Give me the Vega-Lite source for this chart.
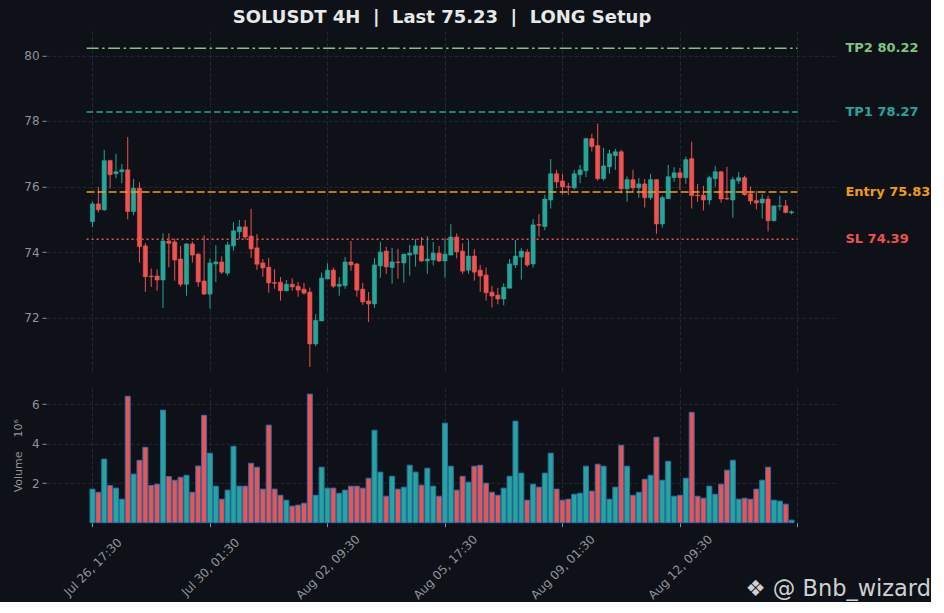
{
  "$schema": "https://vega.github.io/schema/vega-lite/v6.json",
  "background": "#0e1117",
  "padding": {"left": 12, "top": 8.8, "right": 0, "bottom": 0},
  "spacing": 16,
  "config": {
    "font": "DejaVu Sans",
    "view": {"stroke": null},
    "axis": {
      "domain": false,
      "labelFont": "DejaVu Sans",
      "labelFontSize": 12,
      "labelColor": "#8f949c",
      "tickColor": "#8f949c",
      "tickSize": 4,
      "labelPadding": 3,
      "gridColor": "#2a2e37",
      "gridDash": [4, 2],
      "gridWidth": 0.8,
      "titleFont": "DejaVu Sans",
      "titleColor": "#8f949c",
      "titleFontWeight": "normal"
    }
  },
  "datasets": {
    "candles": [
      {"i":0,"o":74.93,"h":75.54,"l":74.76,"c":75.47,"v":1.70},
      {"i":1,"o":75.47,"h":75.98,"l":75.21,"c":75.29,"v":1.54},
      {"i":2,"o":75.29,"h":77.12,"l":75.26,"c":76.79,"v":3.22},
      {"i":3,"o":76.79,"h":76.82,"l":75.94,"c":76.36,"v":1.88},
      {"i":4,"o":76.39,"h":77.00,"l":76.25,"c":76.45,"v":1.75},
      {"i":5,"o":76.45,"h":76.69,"l":76.10,"c":76.51,"v":1.19},
      {"i":6,"o":76.51,"h":77.51,"l":75.00,"c":75.24,"v":6.40},
      {"i":7,"o":75.24,"h":76.23,"l":75.12,"c":75.95,"v":2.46},
      {"i":8,"o":75.95,"h":76.13,"l":73.68,"c":74.17,"v":3.16},
      {"i":9,"o":74.19,"h":74.27,"l":72.79,"c":73.25,"v":3.82},
      {"i":10,"o":73.27,"h":73.50,"l":72.94,"c":73.25,"v":1.88},
      {"i":11,"o":73.27,"h":73.47,"l":72.82,"c":73.15,"v":1.95},
      {"i":12,"o":73.15,"h":74.57,"l":72.30,"c":74.34,"v":5.70},
      {"i":13,"o":74.34,"h":74.57,"l":73.54,"c":74.27,"v":2.34},
      {"i":14,"o":74.31,"h":74.41,"l":73.13,"c":73.76,"v":2.15},
      {"i":15,"o":73.79,"h":74.19,"l":72.94,"c":73.02,"v":2.30},
      {"i":16,"o":73.02,"h":74.27,"l":72.67,"c":74.25,"v":2.40},
      {"i":17,"o":74.25,"h":74.32,"l":73.68,"c":73.91,"v":1.54},
      {"i":18,"o":73.94,"h":73.96,"l":72.94,"c":73.09,"v":2.87},
      {"i":19,"o":73.12,"h":74.51,"l":72.69,"c":72.72,"v":5.44},
      {"i":20,"o":72.72,"h":73.81,"l":72.28,"c":73.67,"v":3.52},
      {"i":21,"o":73.64,"h":74.21,"l":73.09,"c":73.70,"v":1.85},
      {"i":22,"o":73.70,"h":73.87,"l":73.33,"c":73.39,"v":1.19},
      {"i":23,"o":73.36,"h":74.32,"l":73.28,"c":74.22,"v":1.65},
      {"i":24,"o":74.19,"h":74.91,"l":74.04,"c":74.65,"v":3.87},
      {"i":25,"o":74.62,"h":74.98,"l":74.39,"c":74.77,"v":1.85},
      {"i":26,"o":74.77,"h":74.98,"l":74.39,"c":74.46,"v":1.85},
      {"i":27,"o":74.49,"h":75.32,"l":73.82,"c":74.10,"v":3.01},
      {"i":28,"o":74.13,"h":74.55,"l":73.46,"c":73.63,"v":2.81},
      {"i":29,"o":73.67,"h":73.79,"l":73.25,"c":73.52,"v":1.70},
      {"i":30,"o":73.54,"h":73.82,"l":72.76,"c":73.06,"v":4.94},
      {"i":31,"o":73.07,"h":73.48,"l":72.88,"c":73.05,"v":1.70},
      {"i":32,"o":73.08,"h":73.24,"l":72.52,"c":72.82,"v":1.39},
      {"i":33,"o":72.82,"h":73.15,"l":72.81,"c":73.02,"v":1.14},
      {"i":34,"o":73.02,"h":73.20,"l":72.82,"c":72.94,"v":0.84},
      {"i":35,"o":72.96,"h":73.09,"l":72.64,"c":72.84,"v":0.89},
      {"i":36,"o":72.87,"h":73.06,"l":72.70,"c":72.75,"v":0.99},
      {"i":37,"o":72.78,"h":72.92,"l":70.50,"c":71.20,"v":6.51},
      {"i":38,"o":71.20,"h":72.11,"l":71.13,"c":71.92,"v":1.39},
      {"i":39,"o":71.90,"h":73.38,"l":71.90,"c":73.21,"v":2.81},
      {"i":40,"o":73.18,"h":73.66,"l":73.18,"c":73.45,"v":1.75},
      {"i":41,"o":73.45,"h":73.53,"l":72.91,"c":72.96,"v":1.75},
      {"i":42,"o":72.96,"h":73.24,"l":72.67,"c":73.02,"v":1.49},
      {"i":43,"o":72.98,"h":73.85,"l":72.88,"c":73.70,"v":1.65},
      {"i":44,"o":73.70,"h":74.34,"l":73.43,"c":73.61,"v":1.85},
      {"i":45,"o":73.64,"h":73.67,"l":72.64,"c":72.84,"v":1.85},
      {"i":46,"o":72.87,"h":73.06,"l":72.39,"c":72.48,"v":1.75},
      {"i":47,"o":72.51,"h":72.78,"l":71.87,"c":72.42,"v":2.25},
      {"i":48,"o":72.42,"h":73.82,"l":72.30,"c":73.61,"v":4.68},
      {"i":49,"o":73.58,"h":74.31,"l":73.22,"c":74.00,"v":2.56},
      {"i":50,"o":74.03,"h":74.16,"l":73.34,"c":73.55,"v":1.34},
      {"i":51,"o":73.53,"h":74.13,"l":73.04,"c":73.70,"v":2.35},
      {"i":52,"o":73.70,"h":74.10,"l":73.19,"c":73.68,"v":1.70},
      {"i":53,"o":73.67,"h":73.94,"l":73.07,"c":73.94,"v":1.80},
      {"i":54,"o":73.91,"h":74.22,"l":73.28,"c":73.97,"v":2.91},
      {"i":55,"o":73.94,"h":74.40,"l":73.56,"c":74.19,"v":2.56},
      {"i":56,"o":74.19,"h":74.46,"l":73.70,"c":73.73,"v":1.90},
      {"i":57,"o":73.73,"h":74.49,"l":73.34,"c":73.79,"v":2.76},
      {"i":58,"o":73.76,"h":74.31,"l":73.59,"c":73.97,"v":1.85},
      {"i":59,"o":73.97,"h":74.19,"l":73.70,"c":73.73,"v":1.34},
      {"i":60,"o":73.73,"h":74.42,"l":73.22,"c":73.94,"v":5.04},
      {"i":61,"o":73.91,"h":74.85,"l":73.91,"c":74.46,"v":2.86},
      {"i":62,"o":74.46,"h":74.57,"l":73.81,"c":74.01,"v":1.65},
      {"i":63,"o":74.03,"h":74.27,"l":73.34,"c":73.42,"v":2.35},
      {"i":64,"o":73.45,"h":74.36,"l":73.34,"c":73.88,"v":2.05},
      {"i":65,"o":73.88,"h":74.09,"l":73.13,"c":73.39,"v":2.86},
      {"i":66,"o":73.45,"h":73.61,"l":72.79,"c":73.27,"v":2.91},
      {"i":67,"o":73.30,"h":73.53,"l":72.52,"c":72.76,"v":2.00},
      {"i":68,"o":72.78,"h":72.97,"l":72.31,"c":72.66,"v":1.54},
      {"i":69,"o":72.69,"h":72.91,"l":72.41,"c":72.57,"v":1.39},
      {"i":70,"o":72.57,"h":73.05,"l":72.38,"c":72.93,"v":1.75},
      {"i":71,"o":72.90,"h":73.79,"l":72.90,"c":73.64,"v":2.35},
      {"i":72,"o":73.61,"h":74.37,"l":73.52,"c":73.88,"v":5.14},
      {"i":73,"o":73.85,"h":74.12,"l":73.16,"c":74.03,"v":2.51},
      {"i":74,"o":74.00,"h":74.09,"l":73.55,"c":73.61,"v":1.14},
      {"i":75,"o":73.64,"h":75.01,"l":73.53,"c":74.83,"v":1.95},
      {"i":76,"o":74.84,"h":75.16,"l":74.47,"c":74.82,"v":1.80},
      {"i":77,"o":74.78,"h":75.75,"l":74.67,"c":75.62,"v":2.51},
      {"i":78,"o":75.59,"h":76.84,"l":75.33,"c":76.39,"v":3.52},
      {"i":79,"o":76.39,"h":76.51,"l":75.95,"c":76.14,"v":1.70},
      {"i":80,"o":76.17,"h":76.39,"l":75.76,"c":75.99,"v":1.14},
      {"i":81,"o":76.00,"h":76.11,"l":75.74,"c":75.98,"v":1.19},
      {"i":82,"o":75.96,"h":76.51,"l":75.90,"c":76.39,"v":1.44},
      {"i":83,"o":76.36,"h":76.66,"l":76.10,"c":76.51,"v":1.49},
      {"i":84,"o":76.48,"h":77.49,"l":76.29,"c":77.46,"v":2.86},
      {"i":85,"o":77.46,"h":77.61,"l":77.07,"c":77.22,"v":1.60},
      {"i":86,"o":77.25,"h":77.92,"l":76.18,"c":76.24,"v":2.96},
      {"i":87,"o":76.24,"h":77.18,"l":76.18,"c":76.63,"v":2.86},
      {"i":88,"o":76.60,"h":77.12,"l":76.39,"c":77.00,"v":1.19},
      {"i":89,"o":76.94,"h":77.15,"l":76.51,"c":77.06,"v":1.80},
      {"i":90,"o":77.06,"h":77.12,"l":75.79,"c":75.93,"v":3.92},
      {"i":91,"o":75.93,"h":76.31,"l":75.54,"c":76.21,"v":2.86},
      {"i":92,"o":76.21,"h":76.51,"l":75.84,"c":75.96,"v":1.39},
      {"i":93,"o":75.96,"h":76.26,"l":75.66,"c":76.08,"v":1.54},
      {"i":94,"o":76.08,"h":76.23,"l":75.36,"c":75.66,"v":2.20},
      {"i":95,"o":75.66,"h":76.39,"l":75.59,"c":76.21,"v":2.40},
      {"i":96,"o":76.21,"h":76.23,"l":74.56,"c":74.86,"v":4.33},
      {"i":97,"o":74.86,"h":75.72,"l":74.75,"c":75.66,"v":2.15},
      {"i":98,"o":75.63,"h":76.66,"l":75.63,"c":76.30,"v":3.11},
      {"i":99,"o":76.27,"h":76.59,"l":76.14,"c":76.42,"v":1.34},
      {"i":100,"o":76.42,"h":76.57,"l":75.90,"c":76.27,"v":1.39},
      {"i":101,"o":76.27,"h":76.91,"l":76.08,"c":76.82,"v":2.25},
      {"i":102,"o":76.85,"h":77.37,"l":75.33,"c":75.72,"v":5.59},
      {"i":103,"o":75.74,"h":76.08,"l":75.53,"c":75.72,"v":1.34},
      {"i":104,"o":75.74,"h":76.02,"l":75.27,"c":75.59,"v":1.24},
      {"i":105,"o":75.59,"h":76.33,"l":75.45,"c":76.27,"v":1.85},
      {"i":106,"o":76.24,"h":76.63,"l":75.99,"c":76.45,"v":1.44},
      {"i":107,"o":76.45,"h":76.48,"l":75.51,"c":75.62,"v":1.95},
      {"i":108,"o":75.64,"h":76.60,"l":75.59,"c":75.62,"v":2.66},
      {"i":109,"o":75.59,"h":76.30,"l":75.05,"c":76.21,"v":3.16},
      {"i":110,"o":76.17,"h":76.45,"l":76.08,"c":76.27,"v":1.19},
      {"i":111,"o":76.27,"h":76.33,"l":75.72,"c":75.75,"v":1.24},
      {"i":112,"o":75.78,"h":76.00,"l":75.45,"c":75.56,"v":1.19},
      {"i":113,"o":75.57,"h":75.87,"l":75.30,"c":75.50,"v":1.70},
      {"i":114,"o":75.50,"h":75.78,"l":75.02,"c":75.62,"v":2.15},
      {"i":115,"o":75.62,"h":75.72,"l":74.63,"c":74.96,"v":2.81},
      {"i":116,"o":74.96,"h":75.41,"l":74.93,"c":75.41,"v":1.14},
      {"i":117,"o":75.40,"h":75.72,"l":75.27,"c":75.41,"v":1.09},
      {"i":118,"o":75.41,"h":75.59,"l":75.18,"c":75.21,"v":0.94},
      {"i":119,"o":75.20,"h":75.27,"l":75.15,"c":75.23,"v":0.13}
    ],
    "levels": [
      {"name":"TP2","label":"TP2 80.22","price":80.22,"x0":-1,"x1":120},
      {"name":"TP1","label":"TP1 78.27","price":78.27,"x0":-1,"x1":120},
      {"name":"Entry","label":"Entry 75.83","price":75.83,"x0":-1,"x1":120},
      {"name":"SL","label":"SL 74.39","price":74.39,"x0":-1,"x1":120}
    ]
  },
  "vconcat": [
    {
      "width": 792,
      "height": 341,
      "title": {
        "text": "SOLUSDT 4H \u00a0|\u00a0 Last 75.23 \u00a0|\u00a0 LONG Setup",
        "fontSize": 18,
        "fontWeight": "bold",
        "color": "#e8e8e8",
        "anchor": "middle",
        "frame": "group",
        "offset": 3.5
      },
      "layer": [
        {
          "data": {"name": "candles"},
          "mark": {"type": "rule", "strokeWidth": 1},
          "encoding": {
            "x": {
              "field": "i", "type": "quantitative",
              "scale": {"domain": [-7.06, 126.05], "nice": false, "zero": false},
              "axis": {"values": [0, 20, 40, 60, 80, 100, 120], "labels": false, "ticks": false, "grid": true, "title": null}
            },
            "y": {
              "field": "l", "type": "quantitative",
              "scale": {"domain": [70.35, 80.75], "nice": false, "zero": false},
              "axis": {"values": [72, 74, 76, 78, 80], "title": null, "grid": true}
            },
            "y2": {"field": "h"},
            "color": {"condition": {"test": "datum.c >= datum.o", "value": "#26a69a"}, "value": "#ef5350"}
          }
        },
        {
          "data": {"name": "candles"},
          "mark": {"type": "bar", "size": 4.2, "strokeWidth": 0.6},
          "encoding": {
            "x": {"field": "i", "type": "quantitative"},
            "y": {"field": "o", "type": "quantitative"},
            "y2": {"field": "c"},
            "color": {"condition": {"test": "datum.c >= datum.o", "value": "#26a69a"}, "value": "#ef5350"},
            "stroke": {"condition": {"test": "datum.c >= datum.o", "value": "#26a69a"}, "value": "#ef5350"}
          }
        },
        {
          "data": {"name": "levels"},
          "mark": {"type": "rule"},
          "encoding": {
            "x": {"field": "x0", "type": "quantitative"},
            "x2": {"field": "x1"},
            "y": {"field": "price", "type": "quantitative"},
            "color": {
              "field": "name", "type": "nominal", "legend": null,
              "scale": {"domain": ["TP2", "TP1", "Entry", "SL"], "range": ["#7fc47f", "#26a69a", "#f39c12", "#ef5350"]}
            },
            "strokeDash": {
              "field": "name", "type": "nominal", "legend": null,
              "scale": {"domain": ["TP2", "TP1", "Entry", "SL"], "range": [[12, 3.5, 2.5, 3.5], [6.5, 3.3], [8, 3], [2, 3]]}
            },
            "strokeWidth": {
              "field": "name", "type": "ordinal", "legend": null,
              "scale": {"domain": ["TP2", "TP1", "Entry", "SL"], "range": [1.5, 1.5, 2.2, 2]}
            }
          }
        },
        {
          "data": {"name": "levels"},
          "mark": {"type": "text", "align": "left", "baseline": "middle", "dx": 48, "fontSize": 13, "fontWeight": "bold"},
          "encoding": {
            "x": {"field": "x1", "type": "quantitative"},
            "y": {"field": "price", "type": "quantitative"},
            "text": {"field": "label"},
            "color": {"field": "name", "type": "nominal", "legend": null}
          }
        }
      ]
    },
    {
      "width": 792,
      "height": 134.9,
      "title": {
        "text": "\u2756 @ Bnb_wizard",
        "orient": "bottom",
        "anchor": "end",
        "frame": "group",
        "fontSize": 22.5,
        "fontWeight": "normal",
        "color": "#cfd0d2",
        "dx": 93,
        "dy": -27
      },
      "data": {"name": "candles"},
      "mark": {"type": "bar", "size": 5, "stroke": "#2a6fb0", "strokeWidth": 1},
      "encoding": {
        "x": {
          "field": "i", "type": "quantitative",
          "scale": {"domain": [-7.06, 126.05], "nice": false, "zero": false},
          "axis": {
            "values": [0, 20, 40, 60, 80, 100, 120],
            "labelExpr": "['Jul 26, 17:30', 'Jul 30, 01:30', 'Aug 02, 09:30', 'Aug 05, 17:30', 'Aug 09, 01:30', 'Aug 12, 09:30', ''][datum.value / 20]",
            "labelAngle": -45,
            "labelAlign": "center",
            "labelBaseline": "middle",
            "labelPadding": 40,
            "grid": true,
            "title": null
          }
        },
        "y": {
          "field": "v", "type": "quantitative",
          "scale": {"domain": [0, 6.83], "nice": false},
          "axis": {"values": [2, 4, 6], "title": "Volume\u00a0\u00a0\u00a0\u00a010\u2076", "titleFontSize": 11, "titlePadding": 8, "grid": true}
        },
        "color": {"condition": {"test": "datum.c >= datum.o", "value": "#26a69a"}, "value": "#ef5350"}
      }
    }
  ]
}
